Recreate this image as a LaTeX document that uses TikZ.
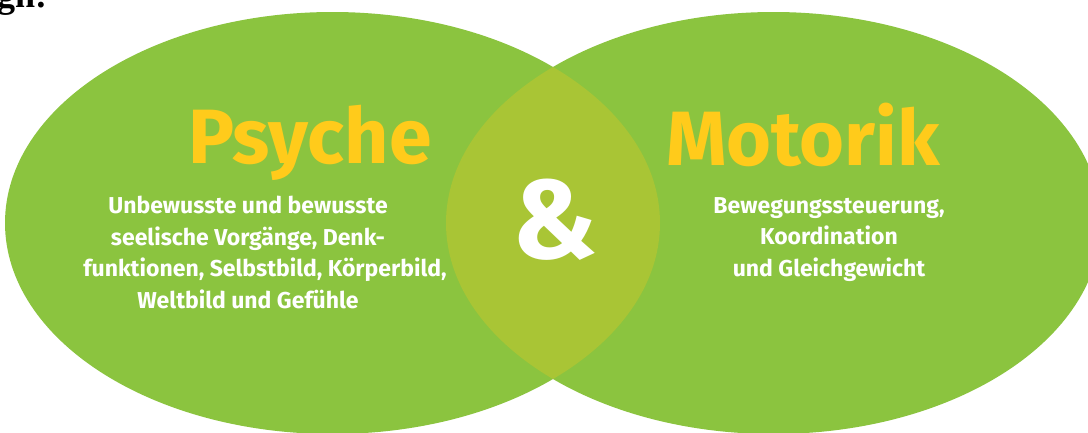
\documentclass[tikz,border=0pt]{standalone}
\usepackage{fontspec}
\setmainfont{Fira Sans}
\newfontfamily\serifbold{Liberation Serif}
\definecolor{vgreen}{HTML}{8BC43F}
\definecolor{vlens}{HTML}{A9C535}
\definecolor{vyellow}{HTML}{FFCB1B}
\tikzset{
  circfill/.style={fill=vgreen, draw=none},
  title/.style={text=vyellow, font=\fontsize{77}{80}\selectfont\bfseries, inner sep=0pt, anchor=base},
  body/.style={text=white, font=\fontsize{23}{31.5}\selectfont\bfseries, align=center, inner sep=0pt, anchor=north},
}
\begin{document}
\begin{tikzpicture}[x=1pt,y=-1pt]
\useasboundingbox (0,0) rectangle (1088,432);
\fill[white] (0,0) rectangle (1088,432);
% ellipses
\fill[circfill] (332.5,223) ellipse [x radius=327.5, y radius=211];
\fill[circfill] (773.5,223) ellipse [x radius=327.5, y radius=211];
\begin{scope}
  \clip (332.5,223) ellipse [x radius=327.5, y radius=211];
  \fill[vlens] (773.5,223) ellipse [x radius=327.5, y radius=211];
\end{scope}
\node[anchor=base west, inner sep=0pt, font=\serifbold\fontsize{36}{38}\selectfont\bfseries] (cut) at (-3,7) {gn:};
\node[title] (psyche) at (310,163) {Psyche};
\node[title] (motorik) at (803,165) {Motorik};
\node[text=white, font=\fontsize{112}{112}\selectfont\bfseries, inner sep=0pt] (amp) at (555,220) {\&};
\node[body] (ptext) at (248,196) {Unbewusste und bewusste\\seelische Vorgänge, Denk-\\\hspace*{34pt}funktionen, Selbstbild, Körperbild,\\Weltbild und Gefühle};
\node[body] (mtext) at (829,197) {Bewegungssteuerung,\\Koordination\\und Gleichgewicht};
\end{tikzpicture}
\end{document}
